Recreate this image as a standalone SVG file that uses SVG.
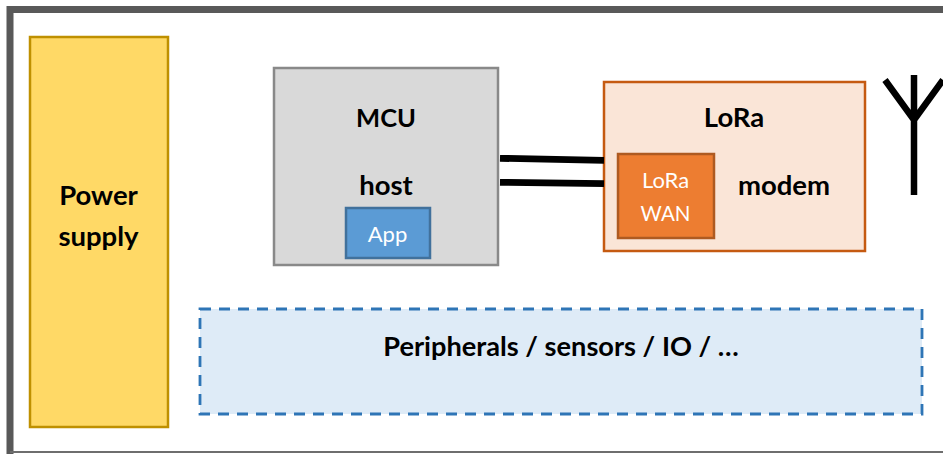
<svg xmlns="http://www.w3.org/2000/svg" width="943" height="454" viewBox="0 0 943 454">
<style>
text{font-family:"Lato","Open Sans","Liberation Sans",sans-serif;text-anchor:middle}
.b{font-weight:700;font-size:27.5px;fill:#000}
.w{font-size:22px;fill:#fff}
.c{stroke:#000;stroke-width:6.8;fill:none}
</style>
<rect width="943" height="454" fill="#fff"/>
<path d="M943 9.5H10V454" fill="none" stroke="#595959" stroke-width="7"/>
<path d="M10 452H943" stroke="#6e6e6e" stroke-width="2" fill="none"/>
<g id="power"><rect x="30" y="37" width="138" height="390" fill="#ffd966" stroke="#bf9000" stroke-width="2.5"/><text class="b" x="98.5" y="205">Power</text><text class="b" x="98.5" y="246">supply</text></g>
<g id="mcu"><rect x="274" y="68" width="224" height="197" fill="#d9d9d9" stroke="#898989" stroke-width="2.5"/><text class="b" style="font-size:25.5px" x="386" y="127">MCU</text><text class="b" x="386" y="195">host</text></g>
<g id="app"><rect x="346" y="208" width="84" height="50" fill="#5b9bd5" stroke="#41719c" stroke-width="2.5"/><text class="w" x="387.5" y="242">App</text></g>
<g id="lora"><rect x="604" y="82" width="261" height="169" fill="#fae5d7" stroke="#c55a11" stroke-width="2.5"/><text class="b" x="734" y="127">LoRa</text><text class="b" x="784" y="195">modem</text></g>
<g id="lorawan"><rect x="618" y="154" width="96" height="84" fill="#ed7d31" stroke="#ae5a21" stroke-width="2.5"/><text class="w" x="665.5" y="188">LoRa</text><text class="w" style="font-size:20.5px" x="665.5" y="221">WAN</text></g>
<g id="peripherals"><rect x="200" y="309" width="722" height="105" fill="#deebf7" stroke="#2e75b6" stroke-width="2.8" stroke-dasharray="11 8"/><text class="b" style="font-size:27.2px" x="561" y="356">Peripherals / sensors / IO / …</text></g>
<g id="antenna" fill="none" stroke="#000" stroke-width="6.5"><path d="M914 195V75M885 80L914 120L943 80"/></g>
<g id="connectors"><path class="c" d="M500 158.3L604 160.3"/><path class="c" d="M500 182.3L604 183.7"/></g>
</svg>
